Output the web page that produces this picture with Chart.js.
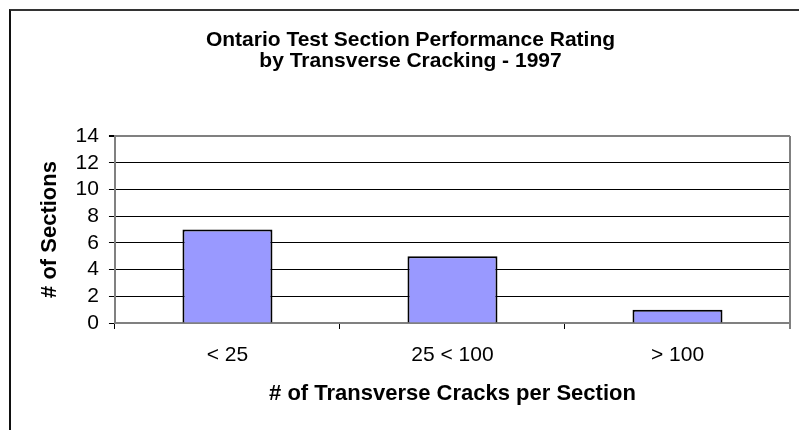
<!DOCTYPE html>
<html>
<head>
<meta charset="utf-8">
<script src="https://cdn.jsdelivr.net/npm/chart.js@4/dist/chart.umd.min.js"></script>
<style>
    html, body { margin: 0; padding: 0; background: #fff; overflow: hidden; }
    #frame {
        position: absolute; left: 9px; top: 9px;
        width: 810px; height: 440px;
        border-top: 2px solid #333; border-left: 2px solid #111;
    }
    canvas { display: block; }
</style>
</head>
<body>
<div id="frame"><canvas id="crackChart" width="810" height="440"></canvas></div>
<script>
// Datos del grafico
const categories = ['< 25', '25 < 100', '> 100'];
const sectionCounts = [7, 5, 1];
const yTicks = [0, 2, 4, 6, 8, 10, 12, 14];

const FONT = "Arial, 'Liberation Sans', sans-serif";

// Borde derecho del area de trazado
const rightBorder = {
    id: 'rightBorder',
    afterDraw(chart) {
        const a = chart.chartArea;
        const ctx = chart.ctx;
        ctx.save();
        ctx.strokeStyle = '#808080';
        ctx.lineWidth = 2;
        ctx.beginPath();
        ctx.moveTo(a.right, a.top);
        ctx.lineTo(a.right, a.bottom + 6);
        ctx.stroke();
        ctx.restore();
    }
};

new Chart(document.getElementById('crackChart').getContext('2d'), {
    type: 'bar',
    data: {
        labels: categories,
        datasets: [{
            data: sectionCounts,
            backgroundColor: '#9999ff',
            borderColor: '#000',
            borderWidth: 2,
            barPercentage: 0.4,
            categoryPercentage: 1
        }]
    },
    options: {
        responsive: false,
        animation: false,
        devicePixelRatio: 1,
        layout: { padding: { left: 20, right: 31, top: 0, bottom: 33.6 } },
        plugins: {
            legend: { display: false },
            tooltip: { enabled: false },
            title: {
                display: true,
                text: ['Ontario Test Section Performance Rating', 'by Transverse Cracking - 1997'],
                color: '#000',
                font: { family: FONT, size: 21, weight: 'bold', lineHeight: 1.0 },
                padding: { top: 18.5, bottom: 64.5 }
            }
        },
        scales: {
            x: {
                offset: true,
                grid: {
                    offset: true,
                    drawOnChartArea: false,
                    drawTicks: true,
                    tickLength: 6,
                    tickColor: '#000'
                },
                border: { color: '#808080', width: 2 },
                ticks: {
                    color: '#000',
                    font: { family: FONT, size: 21 },
                    padding: 13.4,
                    maxRotation: 0
                },
                title: {
                    display: true,
                    text: '# of Transverse Cracks per Section',
                    color: '#000',
                    font: { family: FONT, size: 22, weight: 'bold' },
                    padding: { top: 0, bottom: 10 }
                }
            },
            y: {
                min: 0,
                max: 14,
                afterBuildTicks(scale) {
                    scale.ticks = yTicks.map(v => ({ value: v }));
                },
                grid: {
                    color: ctx => (ctx.tick && ctx.tick.value === 14) ? '#808080' : '#000',
                    lineWidth: ctx => (ctx.tick && ctx.tick.value === 14) ? 2 : 1,
                    tickColor: '#000',
                    tickLength: 6
                },
                border: { color: '#808080', width: 2 },
                ticks: {
                    color: '#000',
                    font: { family: FONT, size: 21 },
                    padding: 10,
                    autoSkip: false
                },
                title: {
                    display: true,
                    text: '# of Sections',
                    color: '#000',
                    font: { family: FONT, size: 22, weight: 'bold' },
                    padding: { top: 5.8, bottom: 2.4 }
                }
            }
        }
    },
    plugins: [rightBorder]
});
</script>
</body>
</html>
